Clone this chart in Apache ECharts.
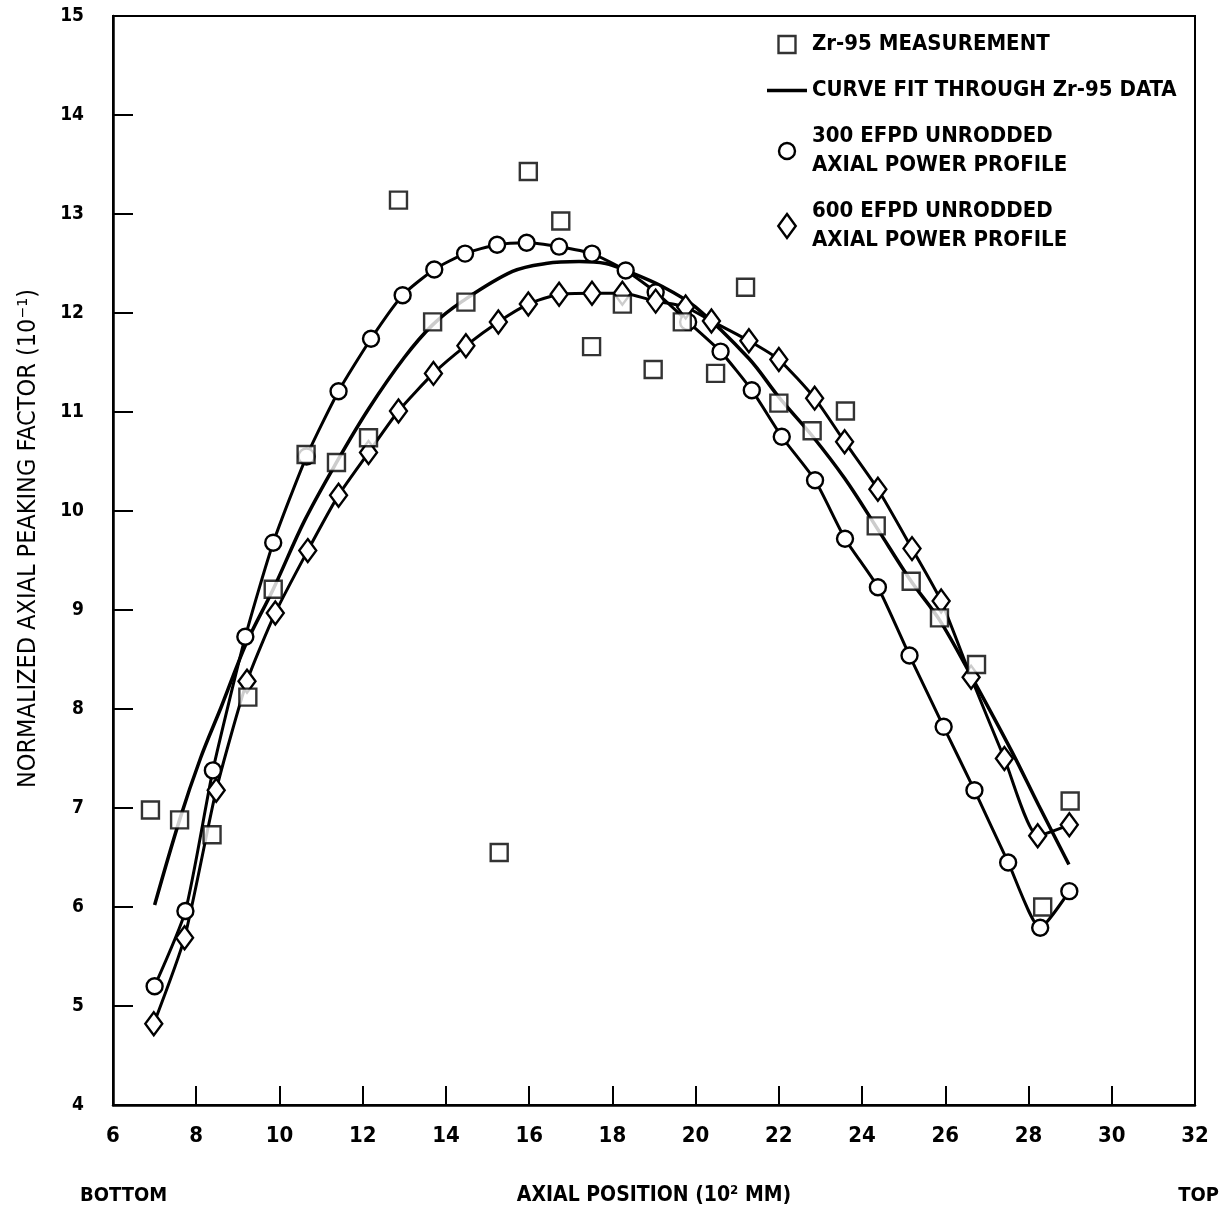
<!DOCTYPE html>
<html>
<head>
<meta charset="utf-8">
<script src="https://cdn.jsdelivr.net/npm/echarts@6/dist/echarts.min.js"></script>
<style>
  html, body { margin: 0; padding: 0; background: #fff; }
  #chart { width: 1225px; height: 1211px; }
</style>
</head>
<body>
<div id="chart"></div>
<script>
// ---- Data (x = axial position in 10^2 mm, y = normalized axial peaking factor in 10^-1) ----
const xTicks = [6, 8, 10, 12, 14, 16, 18, 20, 22, 24, 26, 28, 30, 32];
const yTicks = [4, 5, 6, 7, 8, 9, 10, 11, 12, 13, 14, 15];

const seriesNames = [
  'Zr-95 MEASUREMENT',
  'CURVE FIT THROUGH Zr-95 DATA',
  '300 EFPD UNRODDED\nAXIAL POWER PROFILE',
  '600 EFPD UNRODDED\nAXIAL POWER PROFILE'
];

const zr95Measurement = [
  [6.90, 6.98], [7.60, 6.88], [8.38, 6.73], [9.24, 8.12], [9.85, 9.21],
  [10.64, 10.57], [11.37, 10.49], [12.14, 10.74], [12.86, 13.14], [13.68, 11.91],
  [14.48, 12.11], [15.28, 6.55], [15.98, 13.43], [16.76, 12.93], [17.50, 11.66],
  [18.24, 12.09], [18.98, 11.43], [19.68, 11.91], [20.48, 11.39], [21.20, 12.26],
  [22.00, 11.09], [22.80, 10.81], [23.60, 11.01], [24.34, 9.85], [25.18, 9.29],
  [25.86, 8.92], [26.75, 8.45], [28.34, 6.00], [29.00, 7.07]
];

const curveFit = [
  [7.0, 6.02], [7.6, 6.88], [8.1, 7.50], [8.6, 8.02], [9.2, 8.66], [9.85, 9.21],
  [10.6, 9.90], [11.37, 10.49], [12.14, 11.03], [13.0, 11.55], [13.68, 11.88],
  [14.4, 12.12], [15.6, 12.42], [16.4, 12.50], [17.2, 12.52], [17.84, 12.50],
  [18.32, 12.43], [19.19, 12.27], [20.0, 12.06], [21.28, 11.54], [22.0, 11.15],
  [22.8, 10.76], [23.58, 10.33], [24.34, 9.84], [25.18, 9.29], [25.86, 8.90],
  [26.64, 8.32], [27.6, 7.57], [28.24, 7.03], [28.97, 6.43]
];

const efpd300 = [
  [7.00, 5.20], [7.74, 5.96], [8.40, 7.38], [9.18, 8.73], [9.85, 9.68],
  [10.65, 10.55], [11.42, 11.21], [12.20, 11.74], [12.96, 12.18], [13.72, 12.44],
  [14.46, 12.60], [15.23, 12.69], [15.94, 12.71], [16.72, 12.67], [17.51, 12.60],
  [18.32, 12.43], [19.04, 12.21], [19.82, 11.91], [20.60, 11.61], [21.35, 11.22],
  [22.07, 10.75], [22.87, 10.31], [23.59, 9.72], [24.38, 9.23], [25.14, 8.54],
  [25.96, 7.82], [26.70, 7.18], [27.51, 6.45], [28.28, 5.79], [28.98, 6.16]
];

const efpd600 = [
  [6.98, 4.82], [7.72, 5.69], [8.48, 7.18], [9.22, 8.28], [9.90, 8.97],
  [10.68, 9.60], [11.42, 10.16], [12.14, 10.59], [12.86, 11.01], [13.70, 11.39],
  [14.48, 11.67], [15.26, 11.91], [15.98, 12.09], [16.72, 12.19], [17.51, 12.20],
  [18.24, 12.20], [19.04, 12.12], [19.76, 12.06], [20.38, 11.92], [21.28, 11.72],
  [22.00, 11.53], [22.86, 11.14], [23.58, 10.70], [24.38, 10.22], [25.20, 9.62],
  [25.90, 9.09], [26.62, 8.32], [27.42, 7.50], [28.22, 6.72], [28.98, 6.83]
];

// ---- Chart ----
const FONT = "'Liberation Sans Narrow', 'DejaVu Sans Condensed', 'Liberation Sans', sans-serif";
const chart = echarts.init(document.getElementById('chart'), null, { renderer: 'canvas' });

const markerStyle = { color: '#fff', borderColor: '#000', borderWidth: 2.4 };
// legend icons (invisible move-to points pad the bounding box so icons keep their size)
const SQUARE_ICON = 'path://M-3.3,-3.3M19.3,19.3M0,0h16v16h-16z';
const CIRCLE_ICON = 'path://M-4,-4M20,20M0,8a8,8 0 1,0 16,0a8,8 0 1,0 -16,0z';
const DIAMOND_ICON = 'path://M8,0L16,11L8,22L0,11Z';
const LINE_ICON = 'path://M0,0h40v3.5h-40z';

const option = {
  backgroundColor: '#fff',
  animation: false,
  grid: {
    left: 113, top: 16, right: 30, bottom: 102,
    show: true, borderColor: '#000', borderWidth: 2, backgroundColor: 'transparent'
  },
  xAxis: {
    type: 'value',
    min: xTicks[0], max: xTicks[xTicks.length - 1], interval: 2,
    name: 'AXIAL POSITION (10² MM)',
    nameLocation: 'middle', nameGap: 80,
    nameTextStyle: { fontFamily: FONT, fontWeight: 'bold', fontSize: 21, color: '#000' },
    axisLine: { lineStyle: { color: '#000', width: 2.5 } },
    axisTick: { inside: true, length: 19, lineStyle: { color: '#000', width: 2 } },
    axisLabel: { fontFamily: FONT, fontWeight: 'bold', fontSize: 22, color: '#000', margin: 20 },
    splitLine: { show: false }
  },
  yAxis: {
    type: 'value',
    min: yTicks[0], max: yTicks[yTicks.length - 1], interval: 1,
    name: 'NORMALIZED AXIAL PEAKING FACTOR (10⁻¹)',
    nameLocation: 'middle', nameGap: 72, nameRotate: 90,
    nameTextStyle: { fontFamily: FONT, fontWeight: 'normal', fontSize: 25, color: '#000', padding: [0, 0, 0, 44] },
    axisLine: { lineStyle: { color: '#000', width: 2.5 } },
    axisTick: { inside: true, length: 20, lineStyle: { color: '#000', width: 2 } },
    axisLabel: { fontFamily: FONT, fontWeight: 'bold', fontSize: 19, color: '#000', margin: 29 },
    splitLine: { show: false }
  },
  legend: {
    orient: 'vertical',
    left: 762, top: 25,
    itemWidth: 40, itemHeight: 24, itemGap: 17,
    textStyle: { fontFamily: FONT, fontWeight: 'bold', fontSize: 22, color: '#000', lineHeight: 29 },
    data: [
      { name: seriesNames[0], icon: SQUARE_ICON, itemStyle: markerStyle },
      { name: seriesNames[1], icon: LINE_ICON, itemStyle: { color: '#000', borderWidth: 0 } },
      { name: seriesNames[2], icon: CIRCLE_ICON, itemStyle: markerStyle },
      { name: seriesNames[3], icon: DIAMOND_ICON, itemStyle: markerStyle }
    ]
  },
  graphic: [
    { type: 'text', left: 80, top: 1186, style: { text: 'BOTTOM', font: "bold 20px " + FONT, fill: '#000' } },
    { type: 'text', right: 6, top: 1186, style: { text: 'TOP', font: "bold 20px " + FONT, fill: '#000' } }
  ],
  series: [
    {
      name: seriesNames[1], type: 'line', data: curveFit, smooth: 0.35,
      symbol: 'none', color: '#000',
      lineStyle: { color: '#000', width: 3.5 }, z: 2
    },
    {
      name: seriesNames[2], type: 'line', data: efpd300, smooth: 0.2,
      symbol: 'circle', symbolSize: 16, showAllSymbol: true,
      lineStyle: { color: '#000', width: 3 }, itemStyle: markerStyle, z: 3
    },
    {
      name: seriesNames[3], type: 'line', data: efpd600, smooth: 0.2,
      symbol: 'diamond', symbolSize: [17, 23], showAllSymbol: true,
      lineStyle: { color: '#000', width: 3 }, itemStyle: markerStyle, z: 3
    },
    {
      name: seriesNames[0], type: 'scatter', data: zr95Measurement,
      symbol: 'rect', symbolSize: 17, itemStyle: markerStyle, z: 5
    }
  ]
};
chart.setOption(option);
</script>
</body>
</html>
